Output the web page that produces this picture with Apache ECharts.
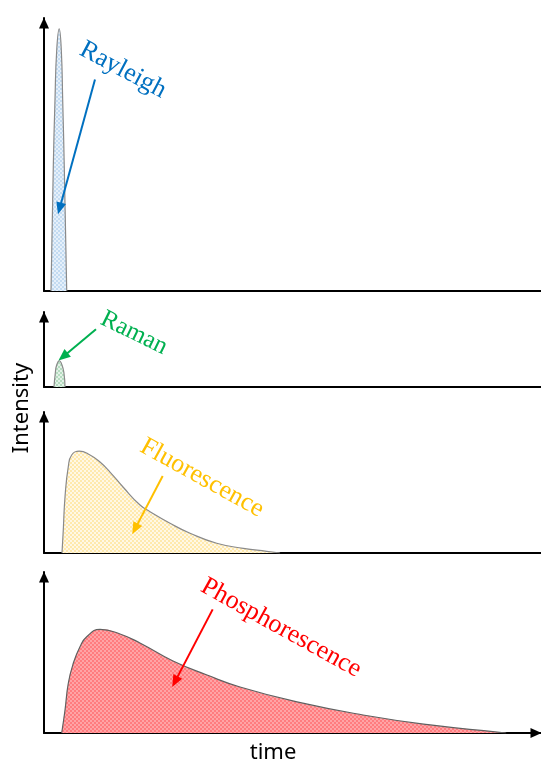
<!DOCTYPE html>
<html>
<head>
<meta charset="utf-8">
<script src="https://cdn.jsdelivr.net/npm/echarts@6/dist/echarts.min.js"></script>
<style>
  html, body { margin: 0; padding: 0; background: #fff; }
  #chart { width: 541px; height: 765px; }
</style>
</head>
<body>
<div id="chart"></div>
<script>
// Time-resolved emission profiles: [time, intensity] read point by point.
var rayleighTime   = [1.41, 1.87, 2.21, 2.56, 3.06, 3.48, 3.76, 4.08, 4.57];
var rayleighValue  = [0, 45.4, 70, 88.3, 96, 88.3, 70, 45.4, 0];

var ramanTime      = [2.01, 2.27, 2.55, 3.08, 3.62, 4.02, 4.23];
var ramanValue     = [0, 18.3, 29.3, 35, 29.3, 18.3, 0];

var fluorTime      = [3.62, 3.88, 4.23, 4.89, 5.57, 7.10, 9.26, 11.27, 13.28, 15.90, 19.32, 21.33, 25.35, 29.38, 34.75, 40.1, 44.8, 47.5];
var fluorValue     = [0, 16.3, 39.9, 61.2, 69.5, 72.3, 69.5, 64.5, 57.4, 46.8, 34.0, 29.3, 21.1, 14.0, 6.9, 3.3, 1.2, 0];

var phosTime       = [3.56, 4.23, 4.89, 5.90, 7.24, 8.59, 11.27, 15.3, 19.3, 25.96, 32.8, 39.44, 50.9, 64.2, 77.7, 91.2, 93.0];
var phosValue      = [0, 14.3, 30.9, 43.3, 53.6, 59.8, 64.4, 61.5, 55.9, 44.7, 36.0, 28.6, 19.3, 11.2, 5.0, 0.6, 0];

var panelNames     = ['Rayleigh', 'Raman', 'Fluorescence', 'Phosphorescence'];
var axisTitles     = ['Intensity', 'time'];

function pairs(xs, ys) {
  return xs.map(function (x, i) { return [x, ys[i]]; });
}

// Small two-tone checker tile used as the area fill.
function checker(a, b) {
  var c = document.createElement('canvas');
  c.width = 4; c.height = 4;
  var g = c.getContext('2d');
  g.fillStyle = b; g.fillRect(0, 0, 4, 4);
  g.fillStyle = a; g.fillRect(0, 0, 2, 2); g.fillRect(2, 2, 2, 2);
  return { image: c, repeat: 'repeat' };
}

var panels = [
  { top: 18,  height: 273, data: pairs(rayleighTime, rayleighValue), fill: checker('#c3dbf1', '#e6f0fa'), edge: '#8a8a8a', color: '#0070C0', xArrow: false,
    arrow: [[10.26, 77.5], [3.14, 30.2]], text: { x: 123, y: 70, rot: 28, size: 26 } },
  { top: 312, height: 75,  data: pairs(ramanTime, ramanValue),       fill: checker('#b5dcc0', '#e3f2e7'), edge: '#8a8a8a', color: '#00B050', xArrow: false,
    arrow: [[10.46, 76.9], [3.84, 40.3]], text: { x: 134, y: 333, rot: 26, size: 25 } },
  { top: 412, height: 141, data: pairs(fluorTime, fluorValue),       fill: checker('#ffe9ad', '#fff8e6'), edge: '#8a8a8a', color: '#FFC000', xArrow: false,
    arrow: [[23.88, 54.6], [18.31, 17.1]], text: { x: 202, y: 478, rot: 29, size: 26 } },
  { top: 572, height: 161, data: pairs(phosTime, phosValue),         fill: checker('#ff7c7f', '#ffa4a6'), edge: '#606060', color: '#FF0000', xArrow: true,
    arrow: [[33.94, 76.8], [26.36, 31.9]], text: { x: 281, y: 628, rot: 29, size: 26 } }
];

var axisLine = function (arrow) {
  return {
    show: true,
    lineStyle: { color: '#000', width: 2 },
    symbol: arrow ? ['none', 'triangle'] : 'none',
    symbolSize: [10, 11],
    symbolOffset: [0, -5]
  };
};

var option = {
  animation: false,
  backgroundColor: '#fff',
  grid: panels.map(function (p) {
    return { left: 44, width: 497, top: p.top, height: p.height };
  }),
  xAxis: panels.map(function (p, i) {
    return {
      type: 'value', gridIndex: i, min: 0, max: 100,
      axisLine: axisLine(p.xArrow), axisTick: { show: false },
      axisLabel: { show: false }, splitLine: { show: false }
    };
  }),
  yAxis: panels.map(function (p, i) {
    return {
      type: 'value', gridIndex: i, min: 0, max: 100,
      axisLine: axisLine(true), axisTick: { show: false },
      axisLabel: { show: false }, splitLine: { show: false }
    };
  }),
  series: panels.map(function (p, i) {
    return {
      name: panelNames[i],
      type: 'line',
      xAxisIndex: i, yAxisIndex: i,
      data: p.data,
      smooth: 0.5,
      showSymbol: false,
      z: 1,
      lineStyle: { color: p.edge, width: 1.2 },
      areaStyle: { color: p.fill, opacity: 1 },
      markLine: {
        silent: true,
        symbol: ['none', 'triangle'],
        symbolSize: [10, 12],
        label: { show: false },
        lineStyle: { color: p.color, width: 2, type: 'solid' },
        data: [[{ coord: p.arrow[0] }, { coord: p.arrow[1] }]]
      }
    };
  }),
  graphic: panels.map(function (p, i) {
    return {
      type: 'text',
      x: p.text.x, y: p.text.y,
      rotation: -p.text.rot * Math.PI / 180,
      z: 10,
      style: {
        text: panelNames[i],
        fill: p.color,
        font: p.text.size + 'px "Liberation Serif", "Times New Roman", serif',
        textAlign: 'center',
        textVerticalAlign: 'middle'
      }
    };
  }).concat([
    {
      type: 'text', x: 22, y: 408, rotation: Math.PI / 2, z: 10,
      style: { text: axisTitles[0], fill: '#000', font: '22px "Noto Sans", sans-serif',
               textAlign: 'center', textVerticalAlign: 'middle' }
    },
    {
      type: 'text', x: 273, y: 753, z: 10,
      style: { text: axisTitles[1], fill: '#000', font: '22px "Noto Sans", sans-serif',
               textAlign: 'center', textVerticalAlign: 'middle' }
    }
  ])
};

var chart = echarts.init(document.getElementById('chart'), null, { renderer: 'canvas' });
chart.setOption(option);
</script>
</body>
</html>
